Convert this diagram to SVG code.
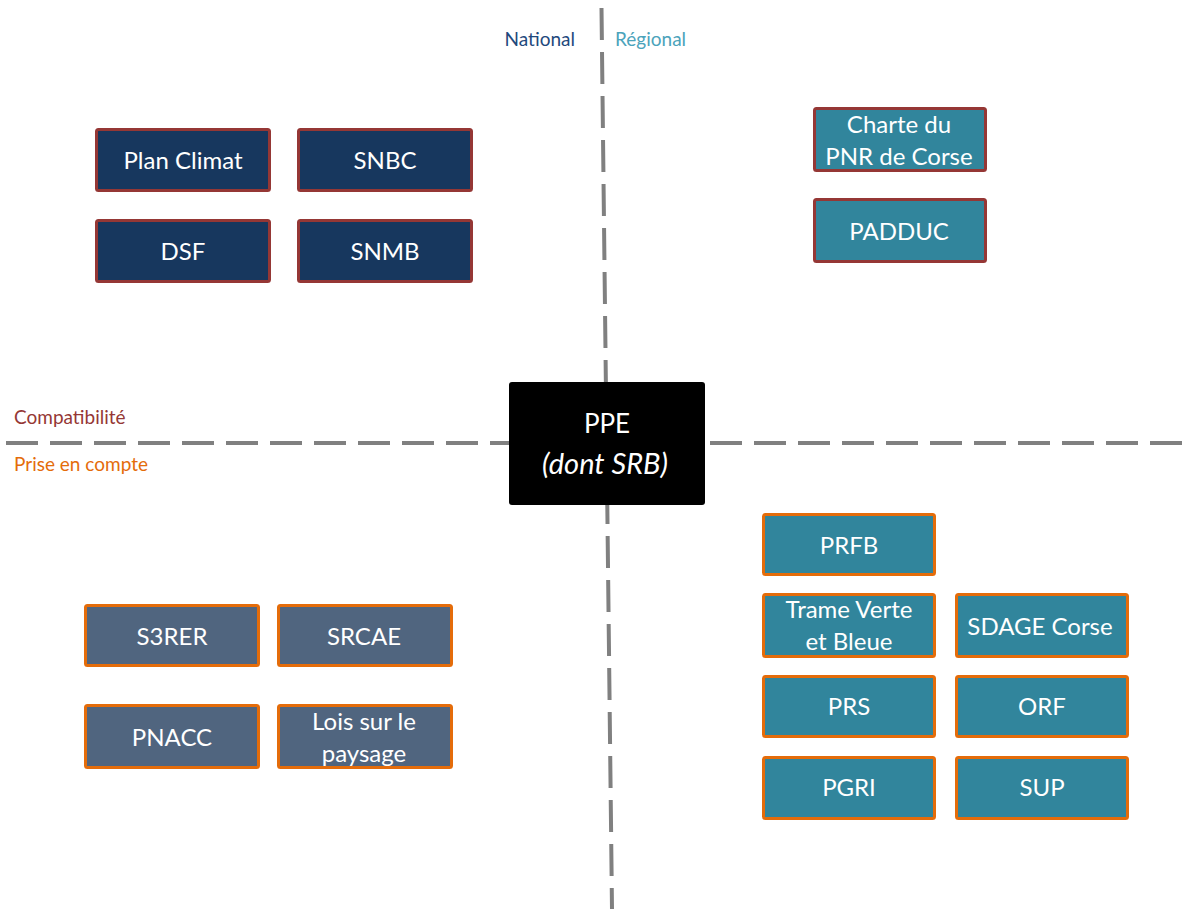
<svg xmlns="http://www.w3.org/2000/svg" width="1182" height="909" viewBox="0 0 1182 909">
<style>
text{font-family:Lato,"Open Sans","Liberation Sans",sans-serif}
.b rect{stroke-width:3}
.nat rect{fill:#17375e;stroke:#953735}
.reg rect{fill:#31859c;stroke:#953735}
.pnat rect{fill:#50657f;stroke:#e46c0a}
.preg rect{fill:#31859c;stroke:#e46c0a}
.b text{fill:#fff;font-size:24px;text-anchor:middle}
.dash{stroke:#808080;stroke-width:4;stroke-dasharray:32 12;fill:none}
.lbl{font-size:19px}
</style>
<rect width="1182" height="909" fill="#fff"/>
<g id="connectors">
<line class="dash" x1="601.5" y1="8" x2="612" y2="909"/>
<line class="dash" x1="6" y1="443" x2="1182" y2="443"/>
</g>
<g id="labels">
<text class="lbl" x="575" y="46" text-anchor="end" fill="#1f497d">National</text>
<text class="lbl" x="615" y="46" fill="#4ba3bb">Régional</text>
<text class="lbl" x="14" y="424" fill="#953735">Compatibilité</text>
<text class="lbl" x="14" y="471" fill="#e46c0a">Prise en compte</text>
</g>
<g id="plan-climat" class="b nat"><rect x="96.5" y="129.5" width="173" height="61" rx="2"/><text x="183" y="169">Plan Climat</text></g>
<g id="snbc" class="b nat"><rect x="298.5" y="129.5" width="173" height="61" rx="2"/><text x="385" y="169">SNBC</text></g>
<g id="dsf" class="b nat"><rect x="96.5" y="220.5" width="173" height="61" rx="2"/><text x="183" y="260">DSF</text></g>
<g id="snmb" class="b nat"><rect x="298.5" y="220.5" width="173" height="61" rx="2"/><text x="385" y="260">SNMB</text></g>
<g id="charte" class="b reg"><rect x="814.5" y="108.5" width="171" height="62" rx="2"/><text x="899" y="133">Charte du</text><text x="899" y="165">PNR de Corse</text></g>
<g id="padduc" class="b reg"><rect x="814.5" y="199.5" width="171" height="62" rx="2"/><text x="899" y="240">PADDUC</text></g>
<g id="s3rer" class="b pnat"><rect x="85.5" y="605.5" width="173" height="60" rx="2"/><text x="172" y="645">S3RER</text></g>
<g id="srcae" class="b pnat"><rect x="278.5" y="605.5" width="173" height="60" rx="2"/><text x="364" y="645">SRCAE</text></g>
<g id="pnacc" class="b pnat"><rect x="85.5" y="705.5" width="173" height="62" rx="2"/><text x="172" y="746">PNACC</text></g>
<g id="lois" class="b pnat"><rect x="278.5" y="705.5" width="173" height="62" rx="2"/><text x="364" y="730">Lois sur le</text><text x="364" y="762">paysage</text></g>
<g id="prfb" class="b preg"><rect x="763.5" y="514.5" width="171" height="60" rx="2"/><text x="849" y="554">PRFB</text></g>
<g id="trame" class="b preg"><rect x="763.5" y="594.5" width="171" height="62" rx="2"/><text x="849" y="618">Trame Verte</text><text x="849" y="650">et Bleue</text></g>
<g id="sdage" class="b preg"><rect x="956.5" y="594.5" width="171" height="62" rx="2"/><text x="1040" y="635">SDAGE Corse</text></g>
<g id="prs" class="b preg"><rect x="763.5" y="676.5" width="171" height="60" rx="2"/><text x="849" y="715">PRS</text></g>
<g id="orf" class="b preg"><rect x="956.5" y="676.5" width="171" height="60" rx="2"/><text x="1042" y="715">ORF</text></g>
<g id="pgri" class="b preg"><rect x="763.5" y="757.5" width="171" height="61" rx="2"/><text x="849" y="796">PGRI</text></g>
<g id="sup" class="b preg"><rect x="956.5" y="757.5" width="171" height="61" rx="2"/><text x="1042" y="796">SUP</text></g>
<g id="ppe"><rect x="509" y="382" width="196" height="123" rx="3" fill="#000"/>
<text x="607" y="433" fill="#fff" font-size="26" text-anchor="middle">PPE</text>
<text x="605" y="474" fill="#fff" font-size="29" font-style="italic" text-anchor="middle">(dont SRB)</text></g>
</svg>
